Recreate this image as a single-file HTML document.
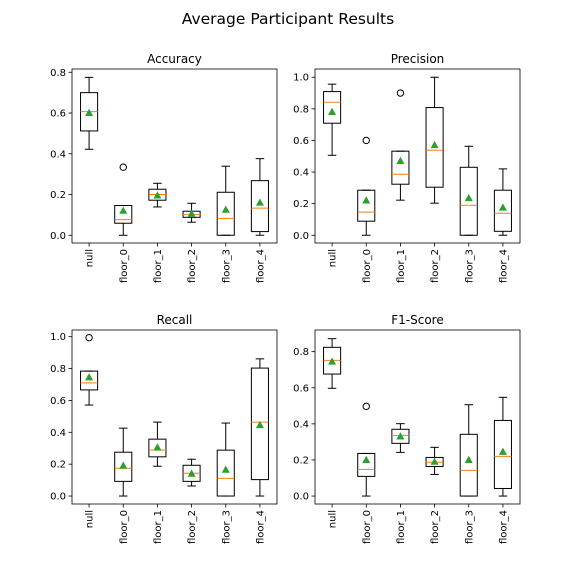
<!DOCTYPE html>
<html><head><meta charset="utf-8"><style>
body{margin:0;background:#fff;font-family:"Liberation Sans","DejaVu Sans",sans-serif}
svg text{font-family:"DejaVu Sans","Liberation Sans",sans-serif;fill:#000}
</style></head><body>
<svg id="c" width="576" height="576" viewBox="0 0 576 576">
<rect width="576" height="576" fill="#fff"/>
<text x="288" y="24" text-anchor="middle" font-size="15.5">Average Participant Results</text>
</svg>
<script>
const categories = ["null","floor_0","floor_1","floor_2","floor_3","floor_4"];
// each box: [whiskerLow, q1, median, q3, whiskerHigh]
const accuracyBoxes = [[0.422,0.512,0.607,0.70,0.775],[0,0.059,0.077,0.146,0.146],[0.139,0.172,0.2,0.226,0.255],[0.064,0.088,0.101,0.118,0.157],[0,0,0.083,0.211,0.339],[0,0.018,0.133,0.268,0.376]];
const accuracyMeans = [0.60,0.12,0.195,0.105,0.125,0.16];
const accuracyOutliers = [[],[0.334],[],[],[],[]];
const precisionBoxes = [[0.506,0.709,0.842,0.909,0.956],[0,0.089,0.146,0.285,0.285],[0.222,0.323,0.386,0.532,0.532],[0.203,0.304,0.538,0.808,1.0],[0,0,0.19,0.43,0.563],[0,0.025,0.139,0.285,0.42]];
const precisionMeans = [0.78,0.22,0.47,0.57,0.235,0.175];
const precisionOutliers = [[],[0.6],[0.9],[],[],[]];
const recallBoxes = [[0.571,0.666,0.71,0.784,0.784],[0,0.092,0.174,0.275,0.426],[0.187,0.246,0.288,0.357,0.464],[0.063,0.092,0.143,0.193,0.231],[0,0,0.111,0.288,0.458],[0,0.103,0.464,0.803,0.861]];
const recallMeans = [0.745,0.19,0.305,0.14,0.165,0.445];
const recallOutliers = [[0.994],[],[],[],[],[]];
const f1Boxes = [[0.597,0.676,0.752,0.824,0.872],[0,0.109,0.148,0.236,0.236],[0.242,0.292,0.336,0.37,0.401],[0.12,0.164,0.187,0.214,0.27],[0,0,0.142,0.342,0.506],[0,0.042,0.22,0.419,0.547]];
const f1Means = [0.745,0.2,0.33,0.19,0.2,0.245];
const f1Outliers = [[],[0.497],[],[],[],[]];
const ticksTo08 = [0,0.2,0.4,0.6,0.8];
const ticksTo10 = [0,0.2,0.4,0.6,0.8,1.0];

const NS="http://www.w3.org/2000/svg";
const svg=document.getElementById('c');
function el(tag,attrs,parent){const e=document.createElementNS(NS,tag);for(const k in attrs)e.setAttribute(k,attrs[k]);(parent||svg).appendChild(e);return e;}

function panel(name,title,L,T,W,H,ymin,ymax,ticks,boxes,means,outliers){
  const g=el('g',{});
  
  
  const y=v=>T+H-(v-ymin)/(ymax-ymin)*H;
  const bw=W/categories.length;
  const x=i=>L+bw*(i+0.5);
  const t=el('text',{x:L+W/2,y:T-6,'text-anchor':'middle','font-size':12},g);
  t.textContent=title;
  
  
  ticks.forEach(v=>{
    el('line',{x1:L-3.5,x2:L,y1:y(v),y2:y(v),stroke:'#000','stroke-width':0.8},g);
    const tl=el('text',{x:L-6,y:y(v)+3.5,'text-anchor':'end','font-size':10},g);
    tl.textContent=v.toFixed(1);
    
    
  });
  categories.forEach((c,i)=>{
    const cx=x(i), b=boxes[i], hw=bw*0.25, cw=bw*0.125;
    const bg=el('g',{},g);
    
    
    const s={stroke:'#000','stroke-width':1,fill:'none'};
    el('line',Object.assign({x1:cx,x2:cx,y1:y(b[0]),y2:y(b[1])},s),bg);
    el('line',Object.assign({x1:cx,x2:cx,y1:y(b[3]),y2:y(b[4])},s),bg);
    el('line',Object.assign({x1:cx-cw,x2:cx+cw,y1:y(b[0]),y2:y(b[0])},s),bg);
    el('line',Object.assign({x1:cx-cw,x2:cx+cw,y1:y(b[4]),y2:y(b[4])},s),bg);
    el('rect',Object.assign({x:cx-hw,y:y(b[3]),width:2*hw,height:Math.max(0,y(b[1])-y(b[3]))},s),bg);
    el('line',{x1:cx-hw,x2:cx+hw,y1:y(b[2]),y2:y(b[2]),stroke:'#ff7f0e','stroke-width':1},bg);
    outliers[i].forEach(o=>el('circle',{cx:cx,cy:y(o),r:3.2,fill:'none',stroke:'#000','stroke-width':1},bg));
    const my=y(means[i]);
    el('polygon',{points:`${cx},${my-4.2} ${cx-4},${my+3} ${cx+4},${my+3}`,fill:'#2ca02c'},bg);
    el('line',{x1:cx,x2:cx,y1:T+H,y2:T+H+3.5,stroke:'#000','stroke-width':0.8},g);
    const xl=el('text',{x:0,y:0,'text-anchor':'end','font-size':10,transform:`translate(${cx+3.5},${T+H+6}) rotate(-90)`},g);
    xl.textContent=c;
    
    
  });
  el('rect',{x:L,y:T,width:W,height:H,fill:'none',stroke:'#000','stroke-width':0.8},g);
}
panel('accuracy','Accuracy',72,69,205,174,-0.038,0.816,ticksTo08,accuracyBoxes,accuracyMeans,accuracyOutliers);
panel('precision','Precision',315,69,205,174,-0.049,1.052,ticksTo10,precisionBoxes,precisionMeans,precisionOutliers);
panel('recall','Recall',72,330,205,174,-0.05,1.042,ticksTo10,recallBoxes,recallMeans,recallOutliers);
panel('f1-score','F1-Score',315,330,205,174,-0.044,0.92,ticksTo08,f1Boxes,f1Means,f1Outliers);
</script>
</body></html>
